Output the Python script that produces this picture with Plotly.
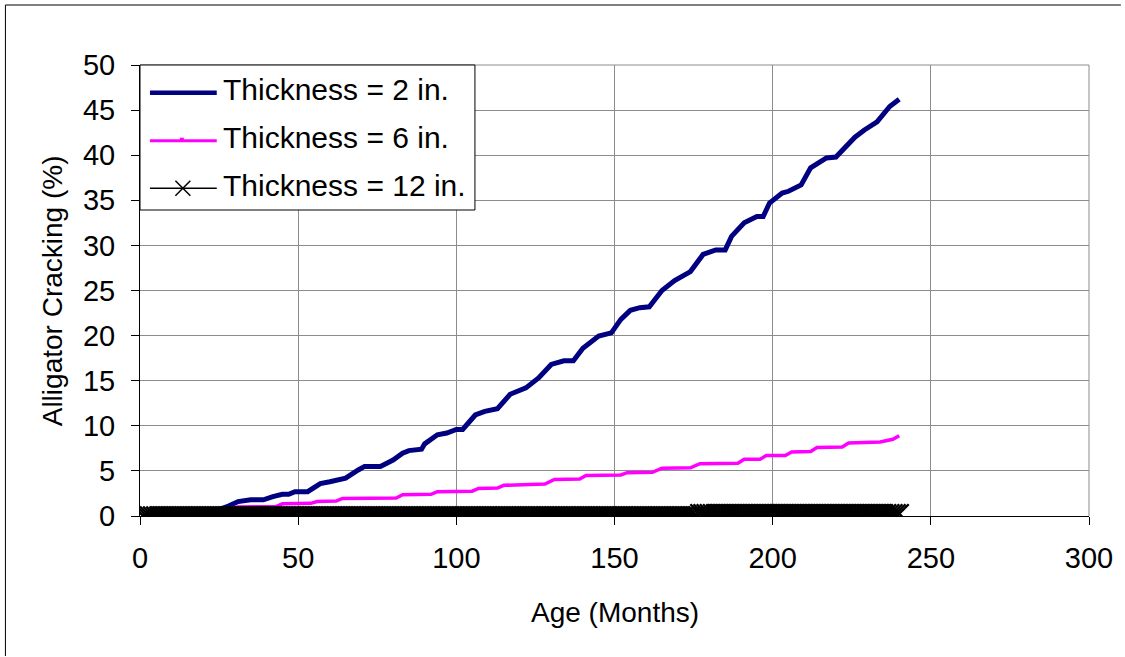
import plotly.graph_objects as go

# ---------------- data ----------------
months_2in = [1, 17, 20, 24, 28, 31, 35, 39, 42, 45, 47, 49, 53, 57, 60, 62, 65, 69, 71, 76,
              80, 83, 85, 89, 90, 94, 97, 100, 102, 106, 109, 113, 117, 122, 126, 130, 134,
              137, 140, 145, 149, 152, 155, 158, 161, 165, 169, 174, 178, 182, 185, 187, 191,
              195, 197, 199, 203, 205, 209, 212, 217, 220, 226, 229, 233, 237, 240]
crack_2in = [0, 0, 0.3, 0.6, 1.1, 1.6, 1.8, 1.8, 2.15, 2.4, 2.4, 2.7, 2.7, 3.6, 3.8, 4.0, 4.2,
             5.1, 5.5, 5.5, 6.2, 6.95, 7.25, 7.4, 8.0, 9.0, 9.2, 9.6, 9.6, 11.2, 11.6, 11.9,
             13.5, 14.2, 15.3, 16.8, 17.2, 17.2, 18.6, 19.95, 20.3, 21.8, 22.8, 23.1, 23.2,
             25.0, 26.1, 27.1, 29.0, 29.5, 29.5, 31.0, 32.5, 33.2, 33.2, 34.7, 35.8, 36.0,
             36.7, 38.6, 39.7, 39.8, 42.0, 42.8, 43.7, 45.4, 46.2]

months_6in = [1, 14, 20, 26, 31, 43, 45, 54, 56, 62, 64, 81, 83, 92, 94, 105, 107, 113, 115,
              128, 131, 139, 141, 152, 154, 162, 165, 174, 177, 189, 191, 196, 198, 204, 206,
              212, 214, 222, 224, 234, 236, 238, 240]
crack_6in = [0, 0, 0.4, 0.7, 1.0, 1.05, 1.35, 1.4, 1.6, 1.65, 1.95, 2.0, 2.35, 2.4, 2.7, 2.75,
             3.05, 3.1, 3.4, 3.55, 4.05, 4.1, 4.5, 4.55, 4.8, 4.85, 5.3, 5.35, 5.8, 5.85, 6.3,
             6.3, 6.7, 6.7, 7.1, 7.15, 7.6, 7.65, 8.1, 8.2, 8.4, 8.5, 8.9]

months_12in = list(range(1, 241))
crack_12in = [0.0] * 176 + [0.25] * 64

x_ticks = [0, 50, 100, 150, 200, 250, 300]
y_ticks = [0, 5, 10, 15, 20, 25, 30, 35, 40, 45, 50]
series_names = ["Thickness = 2 in.", "Thickness = 6 in.", "Thickness = 12 in."]
x_title = "Age (Months)"
y_title = "Alligator Cracking (%)"

# ---------------- styling ----------------
W, H = 1125, 657
PL, PR, PT, PB = 140, 1092, 65, 516
FONT = "Arial, Liberation Sans, sans-serif"
NAVY = "#000080"
MAGENTA = "#FF00FF"
GRID = "#8c8c8c"


def px(x):
    return (x - PL) / (PR - PL)


def py(y):
    return (PB - y) / (PB - PT)


fig = go.Figure()
fig.add_trace(go.Scatter(x=months_2in, y=crack_2in, mode="lines", name=series_names[0],
                         line=dict(color=NAVY, width=5)))
fig.add_trace(go.Scatter(x=months_6in, y=crack_6in, mode="lines", name=series_names[1],
                         line=dict(color=MAGENTA, width=3.5)))
fig.add_trace(go.Scatter(x=months_12in, y=crack_12in, mode="markers", name=series_names[2],
                         marker=dict(symbol="x-thin", size=19, color="black",
                                     line=dict(color="black", width=2.4))))

shapes = []
# outer chart frame (only its top/left edges fall inside the picture)
shapes.append(dict(type="line", xref="paper", yref="paper", x0=px(5), x1=px(1124),
                   y0=py(5), y1=py(5), line=dict(color="black", width=1), layer="above"))
shapes.append(dict(type="line", xref="paper", yref="paper", x0=px(5), x1=px(5),
                   y0=py(5), y1=py(656), line=dict(color="black", width=1), layer="above"))
# plot area right/top border
shapes.append(dict(type="line", xref="paper", yref="paper", x0=0, x1=1, y0=1, y1=1,
                   line=dict(color=GRID, width=1), layer="below"))
shapes.append(dict(type="line", xref="paper", yref="paper", x0=1, x1=1, y0=0, y1=1,
                   line=dict(color=GRID, width=1), layer="below"))
# legend box
shapes.append(dict(type="rect", xref="paper", yref="paper", x0=px(140), x1=px(476),
                   y0=py(210), y1=py(65), fillcolor="white",
                   line=dict(color="black", width=1), layer="above"))
leg_y = [92.7, 140.7, 188.3]
leg_colors = [NAVY, MAGENTA, "black"]
leg_widths = [4.5, 3, 1.5]
for yy, c, w in zip(leg_y, leg_colors, leg_widths):
    shapes.append(dict(type="line", xref="paper", yref="paper", x0=px(150), x1=px(217),
                       y0=py(yy), y1=py(yy), line=dict(color=c, width=w), layer="above"))
# small square marker on 6 in. legend line
shapes.append(dict(type="rect", xref="paper", yref="paper", x0=px(180), x1=px(184),
                   y0=py(leg_y[1] + 1), y1=py(leg_y[1] - 3), fillcolor=MAGENTA,
                   line=dict(width=0), layer="above"))
# x marker on 12 in. legend line
d = 7.5
cx, cy = 183, leg_y[2]
for sx in (-1, 1):
    shapes.append(dict(type="line", xref="paper", yref="paper", x0=px(cx - d), x1=px(cx + d),
                       y0=py(cy - sx * d), y1=py(cy + sx * d),
                       line=dict(color="black", width=1.5), layer="above"))

annotations = []
for yy, name in zip(leg_y, series_names):
    annotations.append(dict(xref="paper", yref="paper", x=px(221), y=py(yy - 3),
                            xanchor="left", yanchor="middle", text=name, showarrow=False,
                            font=dict(family=FONT, size=30, color="black")))
annotations.append(dict(xref="paper", yref="paper", x=px(616), y=py(612), xanchor="center",
                        yanchor="middle", text=x_title, showarrow=False,
                        font=dict(family=FONT, size=28, color="black")))
annotations.append(dict(xref="paper", yref="paper", x=px(52), y=py(291), xanchor="center",
                        yanchor="middle", text=y_title, showarrow=False, textangle=-90,
                        font=dict(family=FONT, size=28, color="black")))

fig.update_layout(
    width=W, height=H,
    margin=dict(l=PL, r=W - PR, t=PT, b=H - PB, pad=0),
    paper_bgcolor="white", plot_bgcolor="white",
    showlegend=False,
    font=dict(family=FONT, size=28, color="black"),
    shapes=shapes, annotations=annotations,
    xaxis=dict(range=[0, 300], tickvals=x_ticks, ticktext=[str(v) for v in x_ticks],
               showgrid=True, gridcolor=GRID, gridwidth=1, zeroline=False,
               showline=True, linecolor="black", linewidth=1,
               ticks="outside", ticklen=8, tickcolor="black", tickwidth=1,
               ticklabelstandoff=8,
               tickfont=dict(family=FONT, size=29, color="black")),
    yaxis=dict(range=[0, 50], tickvals=y_ticks, ticktext=[str(v) for v in y_ticks],
               showgrid=True, gridcolor=GRID, gridwidth=1, zeroline=False,
               showline=True, linecolor="black", linewidth=1,
               ticks="outside", ticklen=8, tickcolor="black", tickwidth=1,
               ticklabelstandoff=10,
               tickfont=dict(family=FONT, size=29, color="black")),
)

fig.write_html("out.html", config={"displayModeBar": False},
               post_script=("document.body.style.margin='0';"
                            "document.body.style.overflow='hidden';"
                            "document.documentElement.style.overflow='hidden';"))
